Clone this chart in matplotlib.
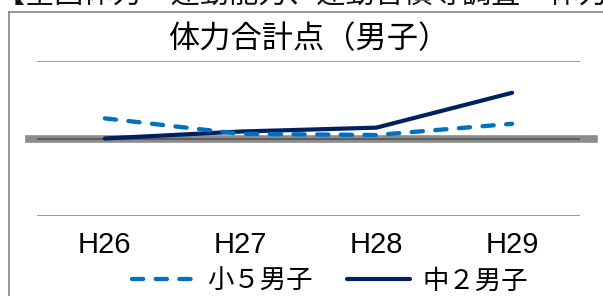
import matplotlib
matplotlib.use('Agg')
import matplotlib.pyplot as plt
from matplotlib.lines import Line2D

plt.rcParams['font.family'] = ['Noto Sans CJK JP', 'DejaVu Sans']

# データ（0を基準とした差）
years = ['H26', 'H27', 'H28', 'H29']
sho5 = [0.26, 0.06, 0.045, 0.19]
chu2 = [0.0, 0.09, 0.14, 0.59]

fig = plt.figure(figsize=(6.03, 2.96), dpi=100)
W, H = 603, 296

# 上の見切れた見出し
fig.text(-4 / W, 1 + 6 / H, '【全国体力・運動能力、運動習慣等調査　体力合計点',
         fontsize=21, va='center', ha='left', color='#111111')

# 枠線（左と上）
fig.add_artist(Line2D([9 / W, 9 / W], [0, 1 - 12 / H], color='#8c8c8c', lw=1.3))
fig.add_artist(Line2D([9 / W, 1], [1 - 12 / H, 1 - 12 / H], color='#8c8c8c', lw=1.3))

ax = fig.add_axes([37 / W, 1 - 216 / H, 543 / W, 155 / H])
x = range(len(years))

ax.set_xlim(-0.5, 3.5)
ax.set_ylim(-1, 1)

# 目盛線
for yv in [-1, 1]:
    ax.axhline(yv, color='#8a8a8a', lw=1.2, zorder=1)
ax.axhline(0, xmin=-8 / 543, xmax=1 + 14 / 543, color='#8c8c8c', lw=5.5,
           clip_on=False, zorder=1)
ax.axhline(0, color='#555555', lw=1.2, zorder=1)

ax.plot(x, sho5, color='#0070C0', lw=3.1, dashes=(2.6, 2.9),
        dash_capstyle='round', solid_capstyle='round', label='小５男子', zorder=3)
ax.plot(x, chu2, color='#002060', lw=3.0, solid_capstyle='round',
        label='中２男子', zorder=2)

ax.set_xticks(list(x))
ax.set_xticklabels(years, fontsize=21, family=['Liberation Sans'])
ax.set_yticks([])
ax.tick_params(axis='x', length=0, pad=11)
for s in ax.spines.values():
    s.set_visible(False)

ax.set_title('体力合計点（男子）', fontsize=22.5, pad=9)

ax.legend(loc='center', bbox_to_anchor=(330 / W, 1 - 281 / H),
          bbox_transform=fig.transFigure, ncol=2, frameon=False,
          fontsize=19, handlelength=2.4, handletextpad=0.45,
          columnspacing=1.3, borderpad=0)

fig.savefig('out.png', dpi=100)
